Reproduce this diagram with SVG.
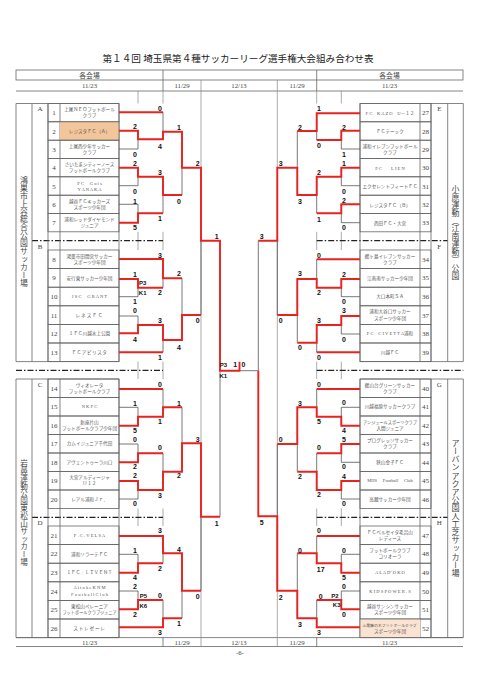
<svg xmlns="http://www.w3.org/2000/svg" width="480" height="694" viewBox="0 0 480 694">
<style>
.bg{fill:#fff}
.ttl{font-family:"Liberation Serif","Noto Sans CJK JP",serif;font-size:9.6px;fill:#222;text-anchor:middle}
.hd{font-family:"Liberation Serif","Noto Sans CJK JP",serif;font-size:6.8px;fill:#444;text-anchor:middle}
.ln{stroke:#666;stroke-width:0.8;fill:none}
.grid{stroke:#888;stroke-width:0.7;fill:none}
.dd{stroke:#222;stroke-width:1.3;fill:none;stroke-dasharray:6 2 1.5 2}
.br{stroke:#555;stroke-width:0.8;fill:none}
.red{stroke:#e8231f;stroke-width:1.9;fill:none;stroke-linejoin:miter}
.sc{font-family:"Liberation Sans",Arial,sans-serif;font-size:7px;font-weight:bold;fill:#111;text-anchor:middle}
.pk{font-family:"Liberation Sans",Arial,sans-serif;font-size:6px;font-weight:bold;fill:#111;text-anchor:middle}
.nm{font-family:"Liberation Serif","Noto Sans CJK JP",serif;font-size:4.6px;fill:#555;text-anchor:middle}
.no{font-family:"Liberation Serif",serif;font-size:7px;fill:#444;text-anchor:middle}
.lt{font-family:"Liberation Serif",serif;font-size:7px;fill:#444;text-anchor:middle}
.vt{font-family:"Noto Sans CJK JP",sans-serif;fill:#444;writing-mode:vertical-rl}
.row{fill:none;stroke:#666;stroke-width:0.8}
</style>
<rect class="bg" x="0" y="0" width="480" height="694"/>

<g id="title">
<text class="ttl" x="238" y="61.5">第１４回 埼玉県第４種サッカーリーグ選手権大会組み合わせ表</text>
</g>

<g id="header">
<rect class="ln" x="16" y="70" width="447" height="10"/>
<line class="ln" x1="163" y1="70" x2="163" y2="91"/>
<line class="ln" x1="316.7" y1="70" x2="316.7" y2="91"/>
<line class="ln" x1="16" y1="91" x2="463" y2="91"/>
<text class="hd" x="89.5" y="77.5">各会場</text>
<text class="hd" x="389.5" y="77.5">各会場</text>
<text class="hd" x="89.5" y="88">11/23</text>
<text class="hd" x="182" y="88">11/29</text>
<text class="hd" x="239" y="88">12/13</text>
<text class="hd" x="297" y="88">11/29</text>
<text class="hd" x="389.5" y="88">11/23</text>
</g>

<g id="footer">
<line class="ln" x1="16" y1="637.6" x2="463" y2="637.6"/>
<line class="ln" x1="16" y1="646.5" x2="463" y2="646.5"/>
<line class="ln" x1="163" y1="637.6" x2="163" y2="646.5"/>
<line class="ln" x1="316.7" y1="637.6" x2="316.7" y2="646.5"/>
<text class="hd" x="89.5" y="644.5">11/23</text>
<text class="hd" x="182" y="644.5">11/29</text>
<text class="hd" x="239" y="644.5">12/13</text>
<text class="hd" x="297" y="644.5">11/29</text>
<text class="hd" x="389.5" y="644.5">11/23</text>
<text class="hd" x="240" y="655">-6-</text>
</g>

<g id="grid">
<line class="grid" x1="201" y1="80" x2="201" y2="646.5"/>
<line class="grid" x1="277.3" y1="80" x2="277.3" y2="646.5"/>
<path class="grid" d="M138,91V103.5M163,91V103.5M341.3,91V103.5M316.7,91V103.5M138,231.8V250M163,231.8V250M341.3,231.8V250M316.7,231.8V250M138,361.6V379M163,361.6V379M341.3,361.6V379M316.7,361.6V379M138,508.5V526M163,508.5V526M341.3,508.5V526M316.7,508.5V526"/>
<path class="dd" d="M32,240.7H163M316.7,240.7H447.7M16,370.3H163M316.7,370.3H463.3M32,517.3H163M316.7,517.3H447.7"/>
</g>

<g id="venue-left-top">
<path class="ln" d="M16,103.5H119V361.6H16ZM32,103.5V361.6M48,103.5V361.6M60,103.5V361.6"/>
<text class="vt" x="24" y="176" style="font-size:7.9px">鴻巣市上谷総合公園サッカー場</text>
<text class="lt" x="40" y="110.5">A</text>
<text class="lt" x="40" y="248.5">B</text>
</g>
<g id="venue-left-bottom">
<path class="ln" d="M16,379H119V637.6H16ZM32,379V637.6M48,379V637.6M60,379V637.6"/>
<text class="vt" x="24" y="459.2" style="font-size:7.6px">岩鼻運動公園東松山サッカー場</text>
<text class="lt" x="40" y="386.5">C</text>
<text class="lt" x="40" y="525">D</text>
</g>
<g id="venue-right-top">
<path class="ln" d="M360,103.5H463.3V361.6H360ZM420,103.5V361.6M431,103.5V361.6M447.7,103.5V361.6"/>
<text class="vt" x="455.5" y="185" style="font-size:7.9px">小原運動（江南運動）公園</text>
<text class="lt" x="439.3" y="110.5">E</text>
<text class="lt" x="439.3" y="248.5">F</text>
</g>
<g id="venue-right-bottom">
<path class="ln" d="M360,379H463.3V637.6H360ZM420,379V637.6M431,379V637.6M447.7,379V637.6"/>
<text class="vt" x="455.5" y="439" style="font-size:8.1px">アーバンアクア公園人工芝サッカー場</text>
<text class="lt" x="439.3" y="386.5">G</text>
<text class="lt" x="439.3" y="525">H</text>
</g>

<!-- Left teams -->
<g id="t1"><rect class="row" x="48" y="103.5" width="71" height="18.3"/><text class="no" x="54" y="115.2">1</text><text class="nm" x="89.5" y="111.2">上尾ＮＥＯフットボール</text><text class="nm" x="89.5" y="117.4">クラブ</text></g>
<g id="t2"><rect x="60" y="121.8" width="59" height="18.4" fill="#f3c59b"/><rect class="row" x="48" y="121.8" width="71" height="18.4"/><text class="no" x="54" y="133.5">2</text><text class="nm" x="89.5" y="133.2">レジスタＦＣ（Ａ）</text></g>
<g id="t3"><rect class="row" x="48" y="140.2" width="71" height="18.3"/><text class="no" x="54" y="151.8">3</text><text class="nm" x="89.5" y="147.8">上尾西少年サッカー</text><text class="nm" x="89.5" y="154">クラブ</text></g>
<g id="t4"><rect class="row" x="48" y="158.5" width="71" height="18.3"/><text class="no" x="54" y="170.2">4</text><text class="nm" x="89.5" y="166.2">さいたまシティーノース</text><text class="nm" x="89.5" y="172.4">フットボールクラブ</text></g>
<g id="t5"><rect class="row" x="48" y="176.8" width="71" height="18.4"/><text class="no" x="54" y="188.5">5</text><text class="nm" x="89.5" y="184.5">F C　 G o i s</text><text class="nm" x="89.5" y="190.7">Y A N A K A</text></g>
<g id="t6"><rect class="row" x="48" y="195.2" width="71" height="18.3"/><text class="no" x="54" y="206.8">6</text><text class="nm" x="89.5" y="202.8">越谷ＦＣキッカーズ</text><text class="nm" x="89.5" y="209">スポーツ少年団</text></g>
<g id="t7"><rect class="row" x="48" y="213.5" width="71" height="18.3"/><text class="no" x="54" y="225.2">7</text><text class="nm" x="89.5" y="221.2">浦和レッドダイヤモンド</text><text class="nm" x="89.5" y="227.4">ジュニア</text></g>

<g id="t8"><rect class="row" x="48" y="250" width="71" height="18.6"/><text class="no" x="54" y="261.8">8</text><text class="nm" x="89.5" y="257.5">鴻巣市田間宮サッカー</text><text class="nm" x="89.5" y="263.7">スポーツ少年団</text></g>
<g id="t9"><rect class="row" x="48" y="268.6" width="71" height="18.6"/><text class="no" x="54" y="280.4">9</text><text class="nm" x="89.5" y="279.6">安行東サッカー少年団</text></g>
<g id="t10"><rect class="row" x="48" y="287.2" width="71" height="18.6"/><text class="no" x="54" y="299">10</text><text class="nm" x="89.5" y="298.2">J S C　 G R A N T</text></g>
<g id="t11"><rect class="row" x="48" y="305.8" width="71" height="18.6"/><text class="no" x="54" y="317.6">11</text><text class="nm" x="89.5" y="316.8" letter-spacing="1">レネスＦＣ</text></g>
<g id="t12"><rect class="row" x="48" y="324.4" width="71" height="18.6"/><text class="no" x="54" y="336.2">12</text><text class="nm" x="89.5" y="335.4">１ＦＣ川越水上公園</text></g>
<g id="t13"><rect class="row" x="48" y="343" width="71" height="18.6"/><text class="no" x="54" y="354.8">13</text><text class="nm" x="89.5" y="354" letter-spacing="0.5">ＦＣアビリスタ</text></g>

<g id="t14"><rect class="row" x="48" y="379" width="71" height="18.5"/><text class="no" x="54" y="390.7">14</text><text class="nm" x="89.5" y="386.5">ヴィオレータ</text><text class="nm" x="89.5" y="392.7">フットボールクラブ</text></g>
<g id="t15"><rect class="row" x="48" y="397.5" width="71" height="18.5"/><text class="no" x="54" y="409.2">15</text><text class="nm" x="89.5" y="408.4">N K F C</text></g>
<g id="t16"><rect class="row" x="48" y="416" width="71" height="18.5"/><text class="no" x="54" y="427.7">16</text><text class="nm" x="89.5" y="423.5">新座片山</text><text class="nm" x="89.5" y="429.7">フットボールクラブ少年団</text></g>
<g id="t17"><rect class="row" x="48" y="434.5" width="71" height="18.5"/><text class="no" x="54" y="446.2">17</text><text class="nm" x="89.5" y="445.4">カムイジュニア千代田</text></g>
<g id="t18"><rect class="row" x="48" y="453" width="71" height="18.5"/><text class="no" x="54" y="464.7">18</text><text class="nm" x="89.5" y="463.9">アヴェントゥーラ川口</text></g>
<g id="t19"><rect class="row" x="48" y="471.5" width="71" height="18.5"/><text class="no" x="54" y="483.2">19</text><text class="nm" x="89.5" y="479">大宮アルディージャ</text><text class="nm" x="89.5" y="485.2">Ｕ１２</text></g>
<g id="t20"><rect class="row" x="48" y="490" width="71" height="18.5"/><text class="no" x="54" y="501.7">20</text><text class="nm" x="89.5" y="500.9">レアル浦和Ｊｒ．</text></g>

<g id="t21"><rect class="row" x="48" y="526" width="71" height="18.6"/><text class="no" x="54" y="537.8">21</text><text class="nm" x="89.5" y="537">F .  C .  V E L S A</text></g>
<g id="t22"><rect class="row" x="48" y="544.6" width="71" height="18.6"/><text class="no" x="54" y="556.4">22</text><text class="nm" x="89.5" y="555.6">浦和ソラーテＦＣ</text></g>
<g id="t23"><rect class="row" x="48" y="563.2" width="71" height="18.6"/><text class="no" x="54" y="575">23</text><text class="nm" x="89.5" y="574.2">１ＦＣ／ＬＩＶＥＮＴ</text></g>
<g id="t24"><rect class="row" x="48" y="581.8" width="71" height="18.6"/><text class="no" x="54" y="593.6">24</text><text class="nm" x="89.5" y="589.3">A i t o k e  K N M</text><text class="nm" x="89.5" y="595.5">F o o t b a l l  C l u b</text></g>
<g id="t25"><rect class="row" x="48" y="600.4" width="71" height="18.6"/><text class="no" x="54" y="612.2">25</text><text class="nm" x="89.5" y="607.9">東松山ペレーニア</text><text class="nm" x="89.5" y="614.1" style="font-size:4.2px">フットボールクラブジュニア</text></g>
<g id="t26"><rect class="row" x="48" y="619" width="71" height="18.6"/><text class="no" x="54" y="630.8">26</text><text class="nm" x="89.5" y="630" letter-spacing="0.8">ストレゼーレ</text></g>

<!-- Right teams -->
<g id="t27"><rect class="row" x="360" y="103.5" width="71" height="18.3"/><text class="no" x="425.5" y="115.2">27</text><text class="nm" x="390" y="114.9">F C　K A Z O　U－１２</text></g>
<g id="t28"><rect class="row" x="360" y="121.8" width="71" height="18.4"/><text class="no" x="425.5" y="133.5">28</text><text class="nm" x="390" y="133.2">ＦＣテーック</text></g>
<g id="t29"><rect class="row" x="360" y="140.2" width="71" height="18.3"/><text class="no" x="425.5" y="151.8">29</text><text class="nm" x="390" y="147.8">浦和イレブンフットボール</text><text class="nm" x="390" y="154">クラブ</text></g>
<g id="t30"><rect class="row" x="360" y="158.5" width="71" height="18.3"/><text class="no" x="425.5" y="170.2">30</text><text class="nm" x="390" y="169.9">F C　　L I E N</text></g>
<g id="t31"><rect class="row" x="360" y="176.8" width="71" height="18.4"/><text class="no" x="425.5" y="188.5">31</text><text class="nm" x="390" y="188.2">エクセレントフィートＦＣ</text></g>
<g id="t32"><rect class="row" x="360" y="195.2" width="71" height="18.3"/><text class="no" x="425.5" y="206.8">32</text><text class="nm" x="390" y="206.5">レジスタＦＣ（Ｂ）</text></g>
<g id="t33"><rect class="row" x="360" y="213.5" width="71" height="18.3"/><text class="no" x="425.5" y="225.2">33</text><text class="nm" x="390" y="224.9">西田ＦＣ・大宮</text></g>

<g id="t34"><rect class="row" x="360" y="250" width="71" height="18.6"/><text class="no" x="425.5" y="261.8">34</text><text class="nm" x="390" y="257.5">鶴ヶ島イレブンサッカー</text><text class="nm" x="390" y="263.7">クラブ</text></g>
<g id="t35"><rect class="row" x="360" y="268.6" width="71" height="18.6"/><text class="no" x="425.5" y="280.4">35</text><text class="nm" x="390" y="279.6">江南南サッカー少年団</text></g>
<g id="t36"><rect class="row" x="360" y="287.2" width="71" height="18.6"/><text class="no" x="425.5" y="299">36</text><text class="nm" x="390" y="298.2">大口本町ＳＡ</text></g>
<g id="t37"><rect class="row" x="360" y="305.8" width="71" height="18.6"/><text class="no" x="425.5" y="317.6">37</text><text class="nm" x="390" y="313.3">浦和大谷口サッカー</text><text class="nm" x="390" y="319.5">スポーツ少年団</text></g>
<g id="t38"><rect class="row" x="360" y="324.4" width="71" height="18.6"/><text class="no" x="425.5" y="336.2">38</text><text class="nm" x="390" y="335.4">F C　C I V E T T A浦和</text></g>
<g id="t39"><rect class="row" x="360" y="343" width="71" height="18.6"/><text class="no" x="425.5" y="354.8">39</text><text class="nm" x="390" y="354">川越ＦＣ</text></g>

<g id="t40"><rect class="row" x="360" y="379" width="71" height="18.5"/><text class="no" x="425.5" y="390.7">40</text><text class="nm" x="390" y="386.5">鶴山台グリーンサッカー</text><text class="nm" x="390" y="392.7">クラブ</text></g>
<g id="t41"><rect class="row" x="360" y="397.5" width="71" height="18.5"/><text class="no" x="425.5" y="409.2">41</text><text class="nm" x="390" y="408.4">川越福原サッカークラブ</text></g>
<g id="t42"><rect class="row" x="360" y="416" width="71" height="18.5"/><text class="no" x="425.5" y="427.7">42</text><text class="nm" x="390" y="423.5" style="font-size:4.2px">アンジュールスポーツクラブ</text><text class="nm" x="390" y="429.7">入間ジュニア</text></g>
<g id="t43"><rect class="row" x="360" y="434.5" width="71" height="18.5"/><text class="no" x="425.5" y="446.2">43</text><text class="nm" x="390" y="442">プログレッソサッカー</text><text class="nm" x="390" y="448.2">クラブ</text></g>
<g id="t44"><rect class="row" x="360" y="453" width="71" height="18.5"/><text class="no" x="425.5" y="464.7">44</text><text class="nm" x="390" y="463.9">狭山金子ＦＣ</text></g>
<g id="t45"><rect class="row" x="360" y="471.5" width="71" height="18.5"/><text class="no" x="425.5" y="483.2">45</text><text class="nm" x="390" y="482.4">MHS　 Football　 Club</text></g>
<g id="t46"><rect class="row" x="360" y="490" width="71" height="18.5"/><text class="no" x="425.5" y="501.7">46</text><text class="nm" x="390" y="500.9">高麗サッカー少年団</text></g>

<g id="t47"><rect class="row" x="360" y="526" width="71" height="18.6"/><text class="no" x="425.5" y="537.8">47</text><text class="nm" x="390" y="533.5">ＦＣベルセイタ毛呂山</text><text class="nm" x="390" y="539.7">レディース</text></g>
<g id="t48"><rect class="row" x="360" y="544.6" width="71" height="18.6"/><text class="no" x="425.5" y="556.4">48</text><text class="nm" x="390" y="552.1">フットボールクラブ</text><text class="nm" x="390" y="558.3">コリオーラ</text></g>
<g id="t49"><rect class="row" x="360" y="563.2" width="71" height="18.6"/><text class="no" x="425.5" y="575">49</text><text class="nm" x="390" y="574.2">A L A D’  O K O</text></g>
<g id="t50"><rect class="row" x="360" y="581.8" width="71" height="18.6"/><text class="no" x="425.5" y="593.6">50</text><text class="nm" x="390" y="592.8">K I D S P O W E R .  S</text></g>
<g id="t51"><rect class="row" x="360" y="600.4" width="71" height="18.6"/><text class="no" x="425.5" y="612.2">51</text><text class="nm" x="390" y="607.9">越谷サンシンサッカー</text><text class="nm" x="390" y="614.1">スポーツ少年団</text></g>
<g id="t52"><rect x="360" y="619" width="60" height="18.6" fill="#fbe3d2"/><rect class="row" x="360" y="619" width="71" height="18.6"/><text class="no" x="425.5" y="630.8">52</text><text class="nm" x="389.5" y="626.5" style="font-size:3.9px">上尾藤の木フットボールクラブ</text><text class="nm" x="390" y="632.7">スポーツ少年団</text></g>

<g id="connectors">
<path class="br" d="M119,149H138M138,130.7V149M163,112.3V139.3M119,185.7H138M138,167.7V185.7M119,204.3H138M138,204.3V222.7M163,176.7V213.3M182,131.7V195"/>
<path class="br" d="M119,296.7H138M138,279V296.7M163,259V287.7M119,316H138M138,316V333.3M163,325V352.3M182,278.3V340M201,240.7V315"/>
<path class="br" d="M119,407.3H138M138,407.3V425.7M163,389V416.7M119,444H138M138,444V462.3M119,499H138M138,481V499M163,453.3V490M182,407.3V471.7"/>
<path class="br" d="M119,554.3H138M138,554.3V572.7M163,536V563.3M119,591H138M138,591V609.3M163,600V627.3M182,553.3V618.3M201,516.7V590.7M220,370.7V516.7"/>
<path class="br" d="M360,149H341.3M341.3,130.7V149M316.7,113.3V140M360,185.7H341.3M341.3,167.7V185.7M360,222.7H341.3M341.3,204.3V222.7M316.7,176.7V213.3M297.3,131V195"/>
<path class="br" d="M360,296.7H341.3M341.3,279V296.7M316.7,259.3V287.7M360,334H341.3M341.3,316V334M316.7,325V352.3M297.3,279V342.7M277.3,240.7V315"/>
<path class="br" d="M360,407.3H341.3M341.3,407.3V425.7M316.7,389V416.7M360,462.3H341.3M341.3,444V462.3M360,499H341.3M341.3,481V499M316.7,453.3V490M297.3,407.3V471.7M277.3,444V590.7M258.3,240.7V370.7"/>
<path class="br" d="M360,554.3H341.3M341.3,554.3V572.7M316.7,536V563.3M360,591H341.3M341.3,591V609.3M316.7,600V627.3M297.3,553.3V618.3"/>
<path class="br" d="M239.5,370.7H258.3"/>
<path class="red" d="M119,112.3H163"/>
<path class="red" d="M119,130.7H138V139.3H163V131.7H182V167.7H201V240.7H220V370.7H239.5V361.8"/>
<path class="red" d="M119,167.7H138V176.7H163V195H182"/>
<path class="red" d="M119,222.7H138V213.3H163"/>
<path class="red" d="M119,259H163V278.3H182"/>
<path class="red" d="M119,279H138V287.7H163"/>
<path class="red" d="M119,333.3H138V325H163V340H182V315H201"/>
<path class="red" d="M119,352.3H163"/>
<path class="red" d="M119,389H163"/>
<path class="red" d="M119,425.7H138V416.7H163V407.3H182"/>
<path class="red" d="M119,462.3H138V453.3H163"/>
<path class="red" d="M119,481H138V490H163V471.7H182V443.3H201V516.7H220"/>
<path class="red" d="M119,536H163V553.3H182V590.7H201"/>
<path class="red" d="M119,572.7H138V563.3H163"/>
<path class="red" d="M119,609.3H138V600H163"/>
<path class="red" d="M119,627.3H163V618.3H182"/>
<path class="red" d="M360,113.3H316.7V131H297.3"/>
<path class="red" d="M360,130.7H341.3V140H316.7"/>
<path class="red" d="M360,167.7H341.3V176.7H316.7V195H297.3V167.7H277.3V240.7H258.3"/>
<path class="red" d="M360,204.3H341.3V213.3H316.7"/>
<path class="red" d="M360,259.3H316.7"/>
<path class="red" d="M360,279H341.3V287.7H316.7V279H297.3V315H277.3"/>
<path class="red" d="M360,316H341.3V325H316.7V342.7H297.3"/>
<path class="red" d="M360,352.3H316.7"/>
<path class="red" d="M360,389H316.7"/>
<path class="red" d="M360,425.7H341.3V416.7H316.7V407.3H297.3V444H277.3"/>
<path class="red" d="M360,444H341.3V453.3H316.7"/>
<path class="red" d="M360,481H341.3V490H316.7V471.7H297.3"/>
<path class="red" d="M360,536H316.7"/>
<path class="red" d="M360,572.7H341.3V563.3H316.7V553.3H297.3"/>
<path class="red" d="M360,609.3H341.3V600H316.7"/>
<path class="red" d="M360,627.3H316.7V618.3H297.3V590.7H277.3V516.3H258.3V370.7"/>
</g>

<g id="scores">
<text class="sc" x="160" y="110.8">0</text><text class="sc" x="135" y="129.2">2</text><text class="sc" x="135" y="156.8">0</text><text class="sc" x="160" y="148.5">4</text><text class="sc" x="179" y="129.8">1</text><text class="sc" x="135" y="165.8">2</text><text class="sc" x="135" y="193.5">0</text><text class="sc" x="160" y="174.8">3</text><text class="sc" x="135" y="203.5">1</text><text class="sc" x="135" y="230.2">5</text><text class="sc" x="160" y="220.8">1</text><text class="sc" x="179" y="203.5">0</text><text class="sc" x="197.7" y="165.8">2</text><text class="sc" x="216.7" y="239">1</text>
<text class="sc" x="160" y="257.5">3</text><text class="sc" x="135" y="276.8">1</text><text class="sc" x="135" y="304.2">1</text><text class="sc" x="160" y="294.8">2</text><text class="pk" x="142.7" y="285">P3</text><text class="pk" x="142.7" y="294.6">K1</text><text class="sc" x="179" y="275.8">2</text><text class="sc" x="135" y="313.2">0</text><text class="sc" x="135" y="341.5">4</text><text class="sc" x="160" y="322.5">3</text><text class="sc" x="160" y="359.8">1</text><text class="sc" x="179" y="349.8">4</text><text class="sc" x="197.7" y="322.5">0</text>
<text class="sc" x="160" y="386.8">0</text><text class="sc" x="135" y="405.8">1</text><text class="sc" x="135" y="432.5">5</text><text class="sc" x="160" y="424.2">1</text><text class="sc" x="179" y="405.8">1</text><text class="sc" x="135" y="441.5">0</text><text class="sc" x="135" y="469.2">2</text><text class="sc" x="160" y="450.2">0</text><text class="sc" x="135" y="478.2">2</text><text class="sc" x="135" y="505.8">0</text><text class="sc" x="160" y="497.5">3</text><text class="sc" x="179" y="477.5">2</text><text class="sc" x="197.7" y="441.5">3</text>
<text class="sc" x="160" y="533.2">3</text><text class="sc" x="135" y="552.5">1</text><text class="sc" x="135" y="580.2">4</text><text class="sc" x="160" y="570.8">2</text><text class="sc" x="179" y="551.8">4</text><text class="sc" x="135" y="589.2">2</text><text class="sc" x="135" y="616.8">2</text><text class="pk" x="143.3" y="598.3">P5</text><text class="pk" x="143.3" y="608">K6</text><text class="sc" x="160" y="598.2">0</text><text class="sc" x="160" y="635.2">3</text><text class="sc" x="179" y="625.8">1</text><text class="sc" x="197.7" y="598.5">0</text><text class="sc" x="216.7" y="525.8">1</text>
<text class="pk" x="223.3" y="367.3">P3</text><text class="pk" x="223.3" y="378.3">K1</text><text class="sc" x="235.3" y="366.5">1</text><text class="sc" x="243.5" y="367">0</text>
<text class="sc" x="319" y="110.8">1</text><text class="sc" x="344" y="129.8">2</text><text class="sc" x="344" y="156.8">1</text><text class="sc" x="319" y="148.2">0</text><text class="sc" x="300" y="129.8">2</text><text class="sc" x="344" y="165.8">1</text><text class="sc" x="344" y="193.5">0</text><text class="sc" x="319" y="174.8">2</text><text class="sc" x="344" y="202.5">2</text><text class="sc" x="344" y="230.2">0</text><text class="sc" x="319" y="221.5">1</text><text class="sc" x="300" y="203.5">3</text><text class="sc" x="280.7" y="165.8">3</text><text class="sc" x="261.7" y="239">3</text>
<text class="sc" x="319" y="257.5">0</text><text class="sc" x="344" y="276.8">2</text><text class="sc" x="344" y="304.2">0</text><text class="sc" x="319" y="295.2">2</text><text class="sc" x="300" y="275.8">3</text><text class="sc" x="344" y="313.2">3</text><text class="sc" x="344" y="341.5">0</text><text class="sc" x="319" y="322.5">3</text><text class="sc" x="319" y="359.8">0</text><text class="sc" x="300" y="349.8">0</text><text class="sc" x="280.7" y="322.5">0</text>
<text class="sc" x="319" y="386.8">0</text><text class="sc" x="344" y="405.2">0</text><text class="sc" x="344" y="432.5">4</text><text class="sc" x="319" y="424.2">5</text><text class="sc" x="300" y="405.8">3</text><text class="sc" x="344" y="441.8">5</text><text class="sc" x="344" y="469.2">0</text><text class="sc" x="319" y="450.2">0</text><text class="sc" x="344" y="479.2">4</text><text class="sc" x="344" y="505.8">0</text><text class="sc" x="319" y="496.8">2</text><text class="sc" x="300" y="479.2">2</text><text class="sc" x="280.7" y="441.5">0</text>
<text class="sc" x="319" y="533.2">0</text><text class="sc" x="344" y="552.5">0</text><text class="sc" x="344" y="580.2">5</text><text class="sc" x="320.7" y="571.5">17</text><text class="sc" x="300" y="552.5">0</text><text class="sc" x="344" y="589.2">0</text><text class="sc" x="344" y="616.8">0</text><text class="pk" x="335" y="598.3">P2</text><text class="pk" x="336.7" y="607.3">K3</text><text class="sc" x="320.7" y="598.5">0</text><text class="sc" x="319" y="635.2">3</text><text class="sc" x="300" y="626.5">3</text><text class="sc" x="280.7" y="599.8">2</text><text class="sc" x="261.7" y="525.2">5</text>
</g>
</svg>
